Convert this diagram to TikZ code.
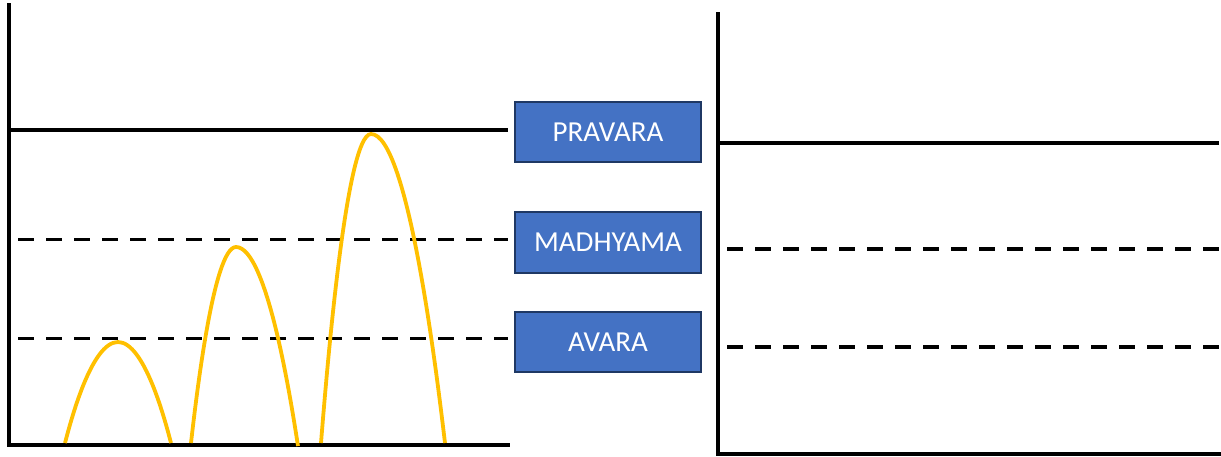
\documentclass[tikz,border=0pt]{standalone}
\usepackage{fontspec}
\setmainfont{Carlito}
\definecolor{boxfill}{HTML}{4472C4}
\definecolor{boxline}{HTML}{1F3864}
\definecolor{gold}{HTML}{FFC000}
\tikzset{
  axis/.style={line width=3.4pt, line cap=rect},
  level/.style={line width=3.2pt},
  dashlevel/.style={line width=3.2pt, dash pattern=on 16pt off 12pt},
  jump/.style={gold, line width=3.8pt},
  label/.style={draw=boxline, line width=2pt, fill=boxfill, text=white,
    minimum width=186pt, minimum height=60pt, inner sep=0pt,
    font=\fontsize{29}{34}\selectfont}
}
\begin{document}
\begin{tikzpicture}[x=1pt,y=-1pt]
\useasboundingbox (0,0) rectangle (1221,457);
% left chart
\coordinate (LT) at (9,5);
\coordinate (LO) at (9,445);
\coordinate (LE) at (508,445);
\draw[axis] (LT) -- (LO) -- (LE);
\draw[level] (9,130) -- (508,130);
\draw[dashlevel] (18,239.5) -- (508,239.5);
\draw[dashlevel] (18,338.5) -- (508,338.5);
% jumps
\draw[jump] (65,443) parabola bend (118,342) (171,443);
\draw[jump] (191,443) parabola bend (236,247) (298,446);
\draw[jump] (321,443) parabola bend (371,134) (445,443);
% labels
\node[label] (pravara) at (608,132.5) {\raisebox{-1pt}{PRAVARA}};
\node[label] (madhyama) at (608,242.5) {\raisebox{-1pt}{MADHYAMA}};
\node[label] (avara) at (608,342) {\raisebox{-1pt}{AVARA}};
% right chart
\coordinate (RT) at (718,14);
\coordinate (RO) at (718,454);
\coordinate (RE) at (1219,454);
\draw[axis] (RT) -- (RO) -- (RE);
\draw[level] (718,143) -- (1219,143);
\draw[dashlevel] (727,249) -- (1219,249);
\draw[dashlevel] (727,347) -- (1219,347);
\end{tikzpicture}
\end{document}
